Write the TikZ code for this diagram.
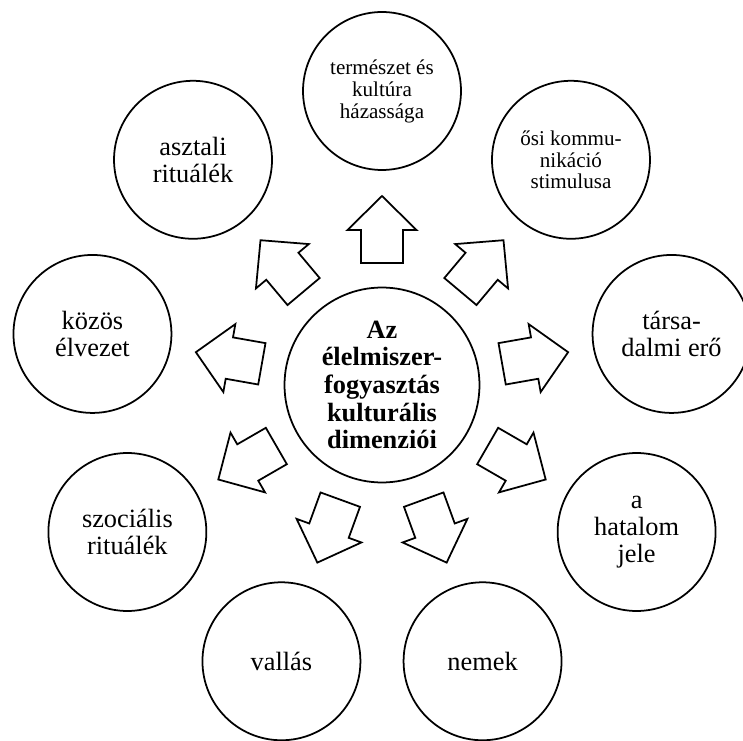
\documentclass[tikz,border=0pt]{standalone}
\usepackage{fontspec}
\setmainfont{Liberation Serif}
\usetikzlibrary{positioning}

\begin{document}
\begin{tikzpicture}[x=0.02cm, y=0.02cm, line width=1pt,
  kor/.style={draw, circle, minimum size=3.16cm, inner sep=0pt, align=center, font=\fontsize{15}{15.5}\selectfont},
  kicsi/.style={font=\fontsize{12}{12.5}\selectfont},
  kozep/.style={draw, circle, minimum size=3.9cm, inner sep=0pt, align=center, font=\fontsize{15}{15.7}\selectfont\bfseries},
  nyil/.style={draw, line join=miter}]

\useasboundingbox (-382,-355) rectangle (361,385);

% középső kör
\node[kozep] (kozep) at (0,0) {Az\\élelmiszer-\\fogyasztás\\kulturális\\dimenziói};

% külső körök
\node[kor, kicsi] (termeszet) at (90:294) {természet és\\kultúra\\házassága};
\node[kor, kicsi] (osi) at (50:294) {ősi kommu-\\nikáció\\stimulusa};
\node[kor] (tarsadalmi) at (10:294) {társa-\\dalmi erő};
\node[kor] (hatalom) at (-30:294) {a\\hatalom\\jele};
\node[kor] (nemek) at (-70:294) {nemek};
\node[kor] (vallas) at (-110:294) {vallás};
\node[kor] (szocialis) at (-150:294) {szociális\\rituálék};
\node[kor] (kozos) at (170:294) {közös\\élvezet};
\node[kor] (asztali) at (130:294) {asztali\\rituálék};

% nyilak
\foreach \a in {90,50,...,-230} {
  \draw[nyil, rotate=\a] (122,-21) -- (155,-21) -- (155,-34.5) -- (189,0)
    -- (155,34.5) -- (155,21) -- (122,21) -- cycle;
}

\end{tikzpicture}
\end{document}
